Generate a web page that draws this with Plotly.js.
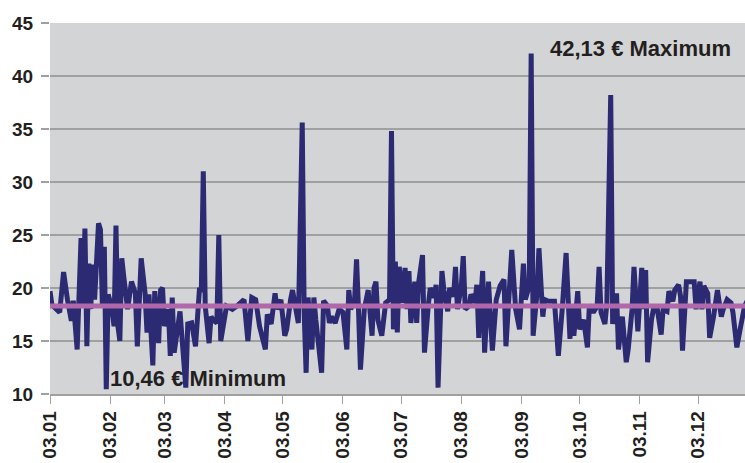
<!DOCTYPE html>
<html>
<head>
<meta charset="utf-8">
<script src="https://cdn.plot.ly/plotly-3.0.1.min.js"></script>
<style>html,body{margin:0;padding:0;background:#fff;}#chart{width:745px;height:463px;}</style>
</head>
<body>
<div id="chart"></div>
<script>
// Day offsets counted from 3 January (first tick "03.01")
const startYear = 2011;
const dayOffsets = [
0,1,5,7,9,11,12,14,16,17,18,19,20,21,22,23,25,26,27,28,29,30,32,33,34,35,36,37,38,40,
42,44,45,47,49,50,51,53,54,56,57,58,59,61,62,63,64,66,67,70,71,73,75,77,78,79,80,82,83,84,
86,87,88,91,94,97,100,102,104,106,108,111,112,114,116,117,119,121,122,124,125,127,128,130,131,132,133,135,136,137,
140,141,143,144,145,147,149,151,153,154,155,157,158,159,160,162,164,166,167,168,169,171,173,175,176,177,
178,179,180,182,183,184,185,186,188,189,190,192,193,195,196,198,199,200,202,203,205,206,208,209,210,212,213,214,216,217,
219,220,221,222,223,224,225,226,228,230,232,234,235,237,238,240,242,244,245,247,248,249,251,252,254,255,257,260,262,264,
266,268,269,270,272,273,275,277,278,280,282,283,284,286,287,289,290,292,293,295,297,298,300,301,302,303,305,306,307,308,
310,311,313,315,316,318,319,321,322,324,325,326,328,330,332,333,335,336,337,339,340,342,344,346,347,349,351,352,354,356,358,360
];
const prices = [
19.7,18.4,17.7,21.5,18.9,16.9,18.8,14.2,24.7,18.3,25.6,14.5,22.3,18.0,22.2,18.9,26.1,25.5,18.3,23.9,10.46,19.4,18.0,16.4,25.9,16.4,15.0,22.8,21.1,18.0,
20.6,19.5,14.5,22.8,19.5,15.8,19.4,12.7,19.7,14.8,19.8,20.0,16.4,18.0,13.6,19.1,13.9,16.6,17.8,10.6,16.6,16.7,14.5,19.8,19.8,31.0,18.3,14.8,17.3,17.0,
16.7,25.0,15.0,18.3,18.0,18.4,18.9,15.0,19.1,18.9,16.4,14.2,17.5,16.6,19.5,18.0,18.9,15.5,16.1,18.9,19.8,17.7,16.7,35.6,17.7,12.0,19.1,14.2,19.1,17.0,
12.0,18.8,18.3,16.7,17.3,16.7,18.0,17.7,14.2,19.8,18.0,18.9,22.7,18.0,12.3,18.0,19.8,15.5,20.0,20.6,17.0,15.5,18.6,18.9,34.8,16.1,
22.5,15.8,22.0,18.6,21.9,18.0,21.6,16.7,20.6,16.7,20.5,23.1,13.9,18.4,20.0,19.1,20.3,10.6,21.6,19.8,17.8,20.0,19.2,22.0,18.0,20.2,23.0,18.0,18.3,19.4,
18.6,20.3,15.3,18.9,21.6,13.9,18.0,20.6,14.1,18.9,20.2,20.8,14.5,20.2,23.6,18.0,16.1,22.3,18.9,20.2,42.13,15.5,19.5,23.75,17.3,18.9,18.75,18.75,13.6,18.0,
23.3,15.2,18.4,15.5,19.7,16.1,17.0,14.4,18.4,17.7,18.3,22.0,17.7,16.6,18.5,38.2,16.6,19.5,14.2,17.3,13.0,14.2,18.0,22.0,18.0,15.9,21.9,18.0,21.7,13.0,
17.0,18.0,18.0,15.6,18.0,17.8,19.7,18.75,19.8,20.3,19.2,14.1,20.6,20.6,20.6,18.0,20.6,18.0,20.2,19.5,15.3,17.3,19.8,17.3,18.0,18.9,18.6,17.7,14.4,16.4,18.3,19.0
];
const averagePrice = 18.3;
const maxLabel = "42,13 € Maximum";
const minLabel = "10,46 € Minimum";

function toDate(d) {
  return new Date(Date.UTC(startYear, 0, 3 + d)).toISOString().slice(0, 10);
}
const dates = dayOffsets.map(toDate);
const rangeStart = toDate(0);
const rangeEnd = toDate(358) + " 05:00";

const family = "Liberation Sans, Arial, sans-serif";
const tickFont = {family: family, size: 19, color: "#231f20", weight: "bold"};
const annFont = {family: family, size: 22, color: "#231f20", weight: "bold"};

const traces = [
  {x: dates, y: prices, type: "scatter", mode: "lines",
   line: {color: "#2c2a73", width: 5}, hoverinfo: "skip"},
  {x: [rangeStart, rangeEnd], y: [averagePrice, averagePrice], type: "scatter", mode: "lines",
   line: {color: "#b068aa", width: 5}, hoverinfo: "skip"}
];

const layout = {
  width: 745, height: 463,
  margin: {l: 50, r: 0, t: 23, b: 69},
  paper_bgcolor: "#ffffff",
  plot_bgcolor: "#d3d4d6",
  showlegend: false,
  xaxis: {
    type: "date",
    range: [rangeStart, rangeEnd],
    tick0: rangeStart, dtick: "M1", tickformat: "%d.%m",
    tickangle: -90,
    ticks: "outside", ticklen: 8, tickcolor: "#a0a0a0", tickwidth: 1,
    showgrid: false, zeroline: false,
    showline: true, linecolor: "#a0a0a0", linewidth: 1.5,
    tickfont: tickFont
  },
  yaxis: {
    range: [10, 45], dtick: 5, tick0: 10,
    ticks: "outside", ticklen: 8, tickcolor: "#a0a0a0", tickwidth: 1.5,
    showgrid: true, gridcolor: "#a0a0a0", gridwidth: 1.5,
    zeroline: false, showline: false,
    ticklabelstandoff: 4,
    tickfont: tickFont
  },
  annotations: [
    {text: maxLabel, xref: "paper", yref: "paper", x: 0.716, y: 0.932,
     xanchor: "left", yanchor: "middle", showarrow: false, font: annFont},
    {text: minLabel, xref: "paper", yref: "paper", x: 0.083, y: 0.043,
     xanchor: "left", yanchor: "middle", showarrow: false, font: annFont}
  ]
};

Plotly.newPlot("chart", traces, layout, {staticPlot: true, displayModeBar: false});
</script>
</body>
</html>
